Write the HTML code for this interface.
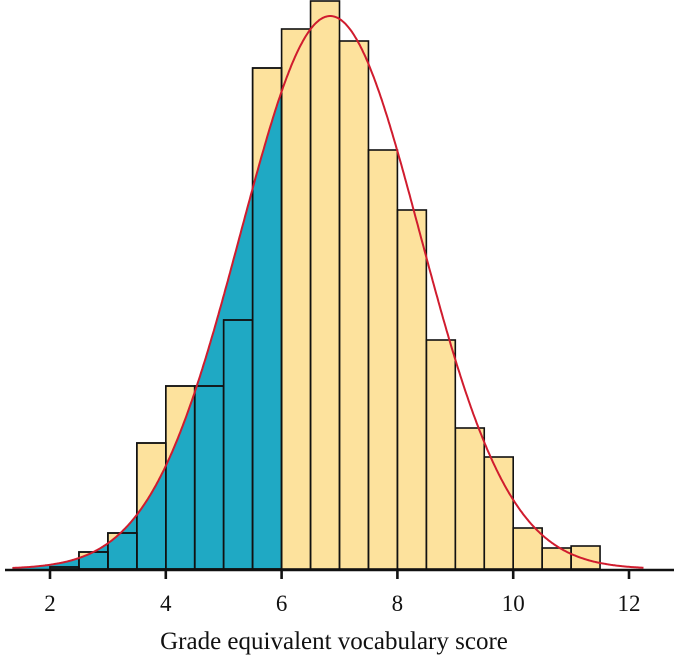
<!DOCTYPE html>
<html><head><meta charset="utf-8"><style>
html,body{margin:0;padding:0;background:#fff;}
svg{display:block;font-family:"Liberation Serif",serif;}
</style></head><body>
<svg id="chart" width="674" height="659" viewBox="0 0 674 659" xmlns="http://www.w3.org/2000/svg">
<defs><clipPath id="leftclip"><rect x="0" y="0" width="281" height="570"/></clipPath></defs>
<g id="bars"></g>
<g id="area"></g>
<g id="barlines"></g>
<g id="curve"></g>
<g id="axis"></g>
<text x="334" y="649" text-anchor="middle" font-size="25" fill="#111">Grade equivalent vocabulary score</text>
</svg>
<script>
const binStarts = [2,2.5,3,3.5,4,4.5,5,5.5,6,6.5,7,7.5,8,8.5,9,9.5,10,10.5,11];
const binCounts = [2,17,36,126,183,183,249,501,540,568,528,419,359,229,141,112,41,21,23];
const tickValues = [2,4,6,8,10,12];
const tickLabels = ["2","4","6","8","10","12"];
const curveMean = [6.84];
const curveSd = [1.55];
const curvePeak = [553];
const binWidth = 0.5;
const shadeBelow = 6;

const NS = "http://www.w3.org/2000/svg";
const X = v => 50 + (v - 2) * 57.9;
const Y = v => 569 - v;
function mk(tag, attrs, parent){const e=document.createElementNS(NS,tag);for(const k in attrs)e.setAttribute(k,attrs[k]);parent.appendChild(e);return e;}
const bars=document.getElementById('bars'), lines=document.getElementById('barlines');
binStarts.forEach((s,i)=>{
  const x0=X(s), x1=X(s+binWidth), y=Y(binCounts[i]);
  const r=mk('rect',{x:x0,y:y,width:x1-x0,height:569-y,fill:'#fde29d'},bars);
  
  
  const o=mk('rect',{x:x0,y:y,width:x1-x0,height:569-y,fill:'none',stroke:'#111','stroke-width':1.6},lines);
  
  
});
const dens = v => curvePeak[0]*Math.exp(-0.5*Math.pow((v-curveMean[0])/curveSd[0],2));
let pts=[];
for(let v=1.35; v<=12.25; v+=0.02) pts.push([X(v),Y(dens(v))]);
let areaPts=[];
for(let v=1.35; v<=shadeBelow+0.0001; v+=0.01) areaPts.push([X(v),Y(dens(v))]);
const ad='M'+X(1.35)+',569 L'+areaPts.map(p=>p[0].toFixed(1)+','+p[1].toFixed(1)).join(' L')+' L'+X(shadeBelow)+',569 Z';
const ap=mk('path',{d:ad,fill:'#1fa9c4'},document.getElementById('area'));


// redraw outlines for shaded bars over area
binStarts.forEach((s,i)=>{ if(s<shadeBelow){
  const x0=X(s), x1=X(s+binWidth), y=Y(binCounts[i]);
  const o=mk('rect',{x:x0,y:y,width:x1-x0,height:569-y,fill:'none',stroke:'#111','stroke-width':1.6},document.getElementById('area'));
  
  
}});
const cp=mk('path',{d:'M'+pts.map(p=>p[0].toFixed(1)+','+p[1].toFixed(1)).join(' L'),fill:'none',stroke:'#d01c2e','stroke-width':2},document.getElementById('curve'));


const ax=document.getElementById('axis');
const al=mk('line',{x1:5,x2:674,y1:570,y2:570,stroke:'#111','stroke-width':2.6},ax);


tickValues.forEach((t,i)=>{
  const tl=mk('line',{x1:X(t),x2:X(t),y1:570,y2:579,stroke:'#111','stroke-width':2.6},ax);
  
  
  const tx=mk('text',{x:X(t),y:611,'text-anchor':'middle','font-size':23,fill:'#111'},ax);
  tx.textContent=tickLabels[i];
  
  
});
</script>
</body></html>
